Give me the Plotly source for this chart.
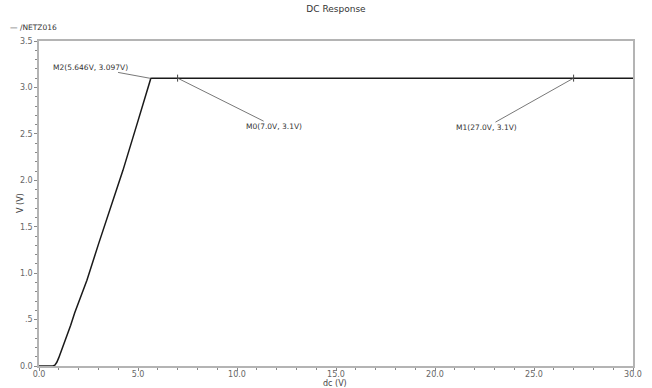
import plotly.graph_objects as go

# DC sweep of /NETZ016: sweep voltage (V) and node voltage (V)
dc_sweep = [0.0, 0.5, 0.7, 0.8, 0.9, 1.0, 1.2, 1.4, 1.6, 1.8, 2.0, 2.2, 2.42,
            3.0, 3.5, 4.24, 5.0, 5.646, 5.7, 10.0, 15.0, 20.0, 25.0, 30.0]
v_netz016 = [0.0, 0.0, 0.0, 0.01, 0.04, 0.09, 0.20, 0.31, 0.44, 0.57, 0.69, 0.81, 0.923,
             1.31, 1.64, 2.107, 2.64, 3.097, 3.1, 3.1, 3.1, 3.1, 3.1, 3.1]

# Markers placed on the trace: name, x, y, label offset (px)
marker_names = ["M0", "M1", "M2"]
marker_x = [7.0, 27.0, 5.646]
marker_y = [3.1, 3.1, 3.097]
marker_labels = ["M0(7.0V, 3.1V)", "M1(27.0V, 3.1V)", "M2(5.646V, 3.097V)"]
label_ax = [96, -87, -60]
label_ay = [48, 49, -11]

x_tickvals = [0, 5, 10, 15, 20, 25, 30]
x_ticktext = ["0.0", "5.0", "10.0", "15.0", "20.0", "25.0", "30.0"]
y_tickvals = [0, 0.5, 1.0, 1.5, 2.0, 2.5, 3.0, 3.5]
y_ticktext = ["0.0", ".5", "1.0", "1.5", "2.0", "2.5", "3.0", "3.5"]

FONT = "DejaVu Sans"
W, H = 652, 388
ML, MR, MT, MB = 39, 19, 41, 22
PW, PH = W - ML - MR, H - MT - MB


def px_to_paper(px, py):
    """Convert a pixel position on the page to paper coordinates."""
    return (px - ML) / PW, 1 - (py - MT) / PH


fig = go.Figure()
fig.add_trace(go.Scatter(
    x=dc_sweep, y=v_netz016, mode="lines", name="/NETZ016",
    line=dict(color="#1a1a1a", width=1.5), showlegend=False,
))
fig.add_trace(go.Scatter(
    x=marker_x[:2], y=marker_y[:2], mode="markers", showlegend=False,
    marker=dict(symbol="line-ns-open", size=5, color="#444",
                line=dict(width=1, color="#444")),
    hoverinfo="skip",
))

for lbl, mx, my, ax, ay in zip(marker_labels, marker_x, marker_y, label_ax, label_ay):
    fig.add_annotation(
        x=mx, y=my, xref="x", yref="y", text=lbl,
        showarrow=True, arrowhead=0, arrowwidth=0.8, arrowcolor="#555",
        ax=ax, ay=ay, standoff=0, borderpad=0,
        font=dict(family=FONT, size=7.5, color="#333"),
    )

# trace name in the top-left corner
lx, ly = px_to_paper(8, 27)
fig.add_annotation(
    xref="paper", yref="paper", x=lx, y=ly,
    text="\u2014 /NETZ016", showarrow=False, xanchor="left", yanchor="middle",
    font=dict(family=FONT, size=7.5, color="#333"),
)

# axis titles
tx, ty = px_to_paper(335, 383)
fig.add_annotation(
    xref="paper", yref="paper", x=tx, y=ty, text="dc (V)", showarrow=False,
    xanchor="center", yanchor="middle",
    font=dict(family=FONT, size=8, color="#444"),
)
tx, ty = px_to_paper(20, 203)
fig.add_annotation(
    xref="paper", yref="paper", x=tx, y=ty, text="V (V)", showarrow=False,
    xanchor="center", yanchor="middle", textangle=-90,
    font=dict(family=FONT, size=8, color="#444"),
)

axis_common = dict(
    showgrid=False, zeroline=False, showline=True, mirror=True,
    linecolor="#b4b4b4", linewidth=1.5, automargin=False,
    ticks="outside", ticklen=3, tickcolor="#888", tickwidth=1,
    tickfont=dict(family=FONT, size=8, color="#666"),
)

fig.update_layout(
    width=W, height=H,
    margin=dict(l=ML, r=MR, t=MT, b=MB),
    paper_bgcolor="white", plot_bgcolor="white",
    title=dict(text="DC Response", x=0.5, xref="paper", y=1 - 9 / H,
               yanchor="middle", automargin=False,
               font=dict(family=FONT, size=9, color="#333")),
    xaxis=dict(
        range=[0, 30], tickvals=x_tickvals, ticktext=x_ticktext,
        ticklabelstandoff=-3,
        minor=dict(dtick=1, ticks="outside", ticklen=2, tickcolor="#888"),
        **axis_common,
    ),
    yaxis=dict(
        range=[0, 3.5], tickvals=y_tickvals, ticktext=y_ticktext,
        minor=dict(dtick=0.1, ticks="outside", ticklen=2, tickcolor="#888"),
        **axis_common,
    ),
)

fig.write_html("out.html")
